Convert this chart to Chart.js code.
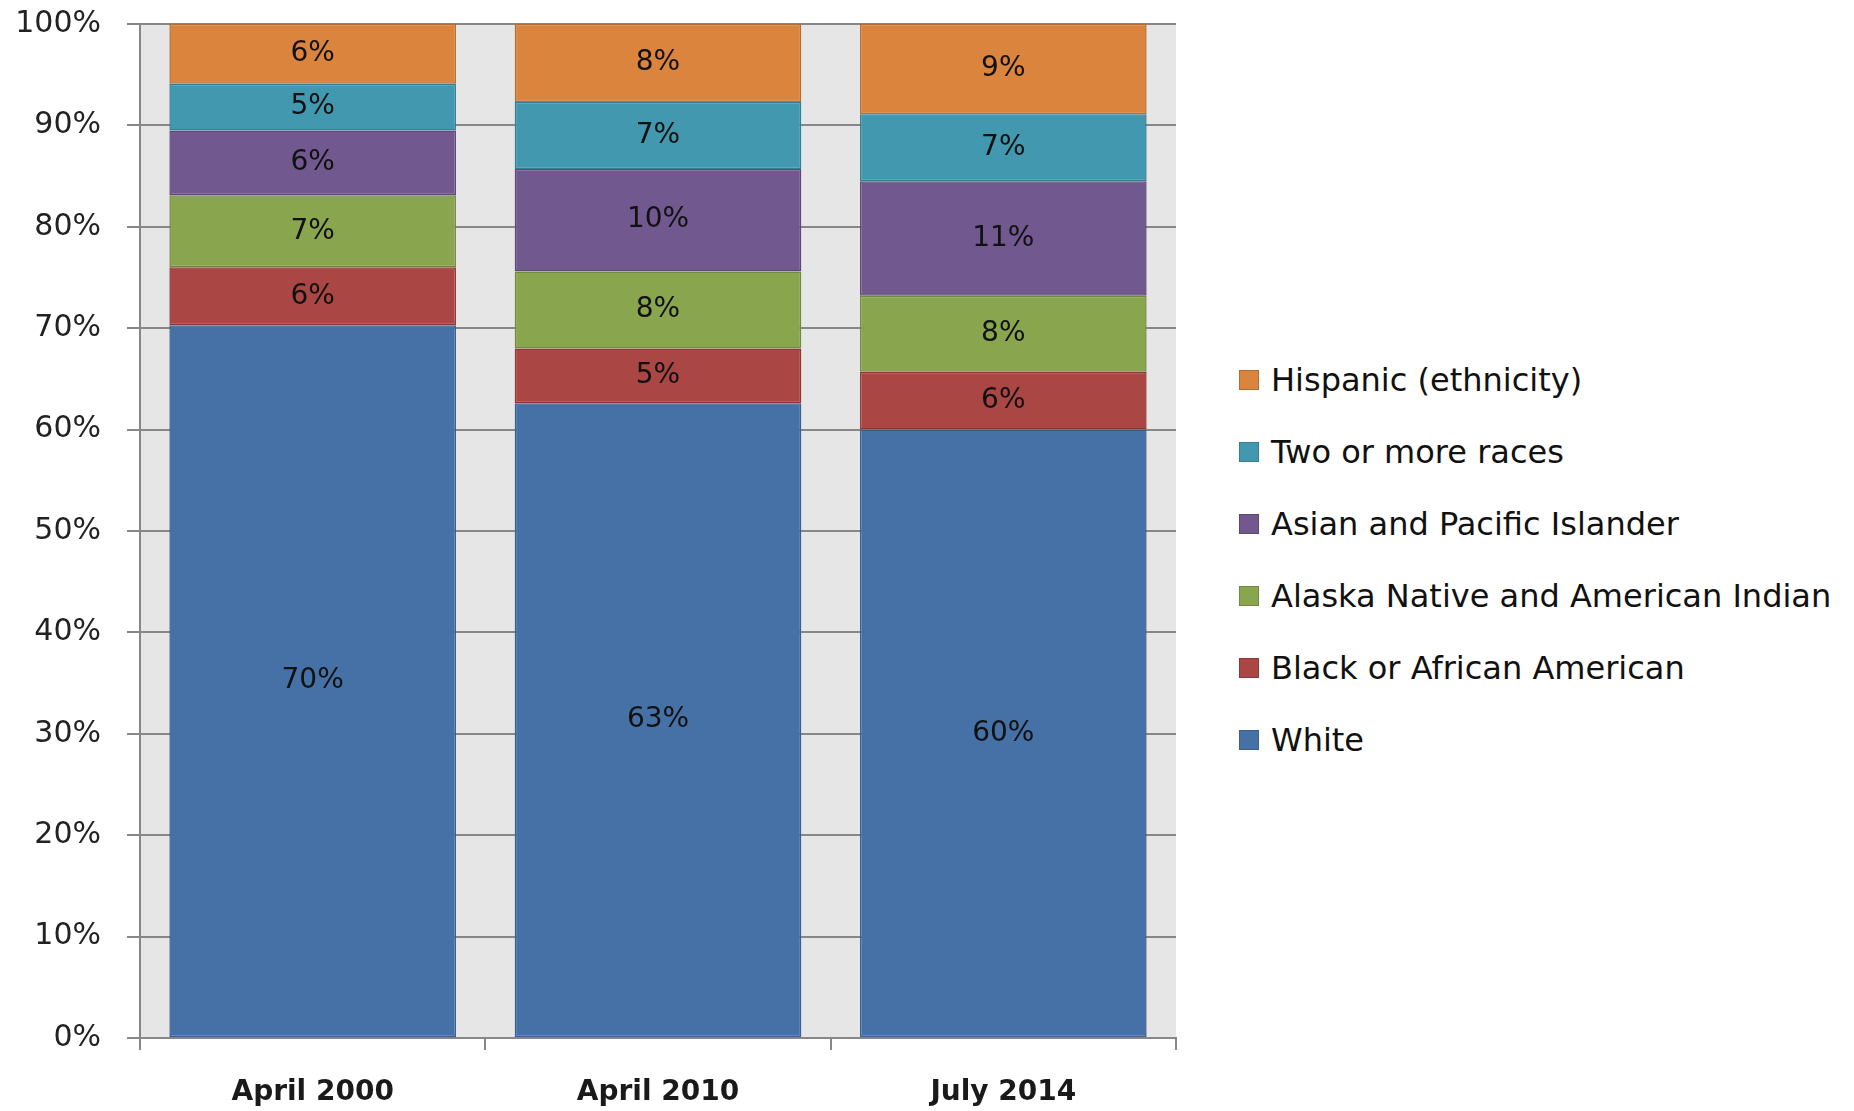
<!DOCTYPE html>
<html>
<head>
<meta charset="utf-8">
<title>population by race</title>
<script src="https://cdn.jsdelivr.net/npm/chart.js@4.4.1/dist/chart.umd.min.js"></script>
<style>
  html, body { margin: 0; padding: 0; background: #fff; }
  #wrap { width: 1854px; height: 1111px; position: relative; }
  #lienzo { position: absolute; left: 0; top: 0; width: 1190px; height: 1111px; }
  #leyenda { position: absolute; left: 1239px; top: 344px; margin: 0; padding: 0; list-style: none;
    font-family: 'DejaVu Sans', sans-serif; font-size: 32px; color: #111; }
  #leyenda li { display: flex; align-items: center; height: 72px; white-space: nowrap; }
  #leyenda .caja { width: 18px; height: 18px; border: 1.5px solid; margin-right: 12px; flex: none; }
</style>
</head>
<body>
<div id="wrap">
  <div id="lienzo"><canvas id="grafico"></canvas></div>
  <ul id="leyenda"></ul>
</div>
<script>
"use strict";

// categorias y series (porcentajes)
var categorias = ["April 2000", "April 2010", "July 2014"];
var blanco = [70.3, 62.6, 60.0];
var negro = [5.7, 5.4, 5.7];
var nativo = [7.1, 7.6, 7.5];
var asiatico = [6.4, 10.1, 11.3];
var mixto = [4.6, 6.6, 6.6];
var hispano = [5.9, 7.7, 8.9];
var ticksY = [0, 10, 20, 30, 40, 50, 60, 70, 80, 90, 100];

var fuente = "'DejaVu Sans', 'Open Sans', sans-serif";
var gris = "#878787";

// fondo gris del area del grafico
var fondoPlot = {
  id: "fondoPlot",
  beforeDraw: function (chart) {
    var a = chart.chartArea;
    var ctx = chart.ctx;
    ctx.save();
    ctx.fillStyle = "#e6e6e6";
    ctx.fillRect(a.left, a.top, a.right - a.left, a.bottom - a.top);
    ctx.restore();
  }
};

// etiquetas de porcentaje centradas en cada segmento
var etiquetas = {
  id: "etiquetas",
  afterDatasetsDraw: function (chart) {
    var ctx = chart.ctx;
    ctx.save();
    ctx.font = "28px " + fuente;
    ctx.fillStyle = "#111";
    ctx.textAlign = "center";
    ctx.textBaseline = "middle";
    chart.data.datasets.forEach(function (ds, i) {
      var meta = chart.getDatasetMeta(i);
      meta.data.forEach(function (el, j) {
        var v = ds.data[j];
        ctx.fillText(Math.round(v) + "%", el.x, (el.y + el.base) / 2);
      });
    });
    ctx.restore();
  }
};

// leyenda en html, de arriba (ultima serie) hacia abajo
var leyendaHtml = {
  id: "leyendaHtml",
  afterUpdate: function (chart) {
    var ul = document.getElementById("leyenda");
    if (!ul) { return; }
    ul.innerHTML = "";
    chart.data.datasets.slice().reverse().forEach(function (ds) {
      var li = document.createElement("li");
      var caja = document.createElement("span");
      caja.className = "caja";
      caja.style.background = ds.backgroundColor;
      caja.style.borderColor = ds.borderColor;
      var txt = document.createElement("span");
      txt.textContent = ds.label;
      li.appendChild(caja);
      li.appendChild(txt);
      ul.appendChild(li);
    });
  }
};

function serie(nombre, datos, relleno, borde) {
  return {
    label: nombre,
    data: datos,
    backgroundColor: relleno,
    borderColor: borde,
    borderWidth: 1.5,
    borderSkipped: false,
    barPercentage: 0.83,
    categoryPercentage: 1.0
  };
}

var ctx = document.getElementById("grafico").getContext("2d");
new Chart(ctx, {
  type: "bar",
  data: {
    labels: categorias,
    datasets: [
      serie("White", blanco, "#4571a7", "#3a5f8e"),
      serie("Black or African American", negro, "#aa4643", "#8e3835"),
      serie("Alaska Native and American Indian", nativo, "#89a54e", "#718a3f"),
      serie("Asian and Pacific Islander", asiatico, "#71588f", "#5d4877"),
      serie("Two or more races", mixto, "#4198af", "#347f93"),
      serie("Hispanic (ethnicity)", hispano, "#db843d", "#b86d30")
    ]
  },
  options: {
    responsive: true,
    maintainAspectRatio: false,
    animation: false,
    layout: { padding: { top: 24, bottom: 0, left: 0, right: 14 } },
    plugins: {
      tooltip: { enabled: false },
      legend: { display: false }
    },
    scales: {
      x: {
        stacked: true,
        afterFit: function (s) { s.height = 73; s.paddingLeft = 0; s.paddingRight = 0; },
        grid: {
          offset: true,
          drawOnChartArea: false,
          drawTicks: true,
          tickLength: 12,
          color: gris,
          lineWidth: 2
        },
        border: { display: true, color: gris, width: 2 },
        ticks: {
          padding: 26,
          color: "#1a1a1a",
          font: { family: fuente, size: 28, weight: "bold" }
        }
      },
      y: {
        stacked: true,
        min: 0,
        max: 100,
        afterFit: function (s) { s.width = 140; s.paddingTop = 0; s.paddingBottom = 0; },
        afterBuildTicks: function (s) {
          s.ticks = ticksY.map(function (v) { return { value: v }; });
        },
        grid: {
          color: gris,
          lineWidth: 2,
          drawTicks: true,
          tickLength: 13
        },
        border: { display: true, color: gris, width: 2 },
        ticks: {
          padding: 26,
          color: "#222",
          font: { family: fuente, size: 30 },
          callback: function (v) { return v + "%"; }
        }
      }
    }
  },
  plugins: [fondoPlot, etiquetas, leyendaHtml]
});
</script>
</body>
</html>
